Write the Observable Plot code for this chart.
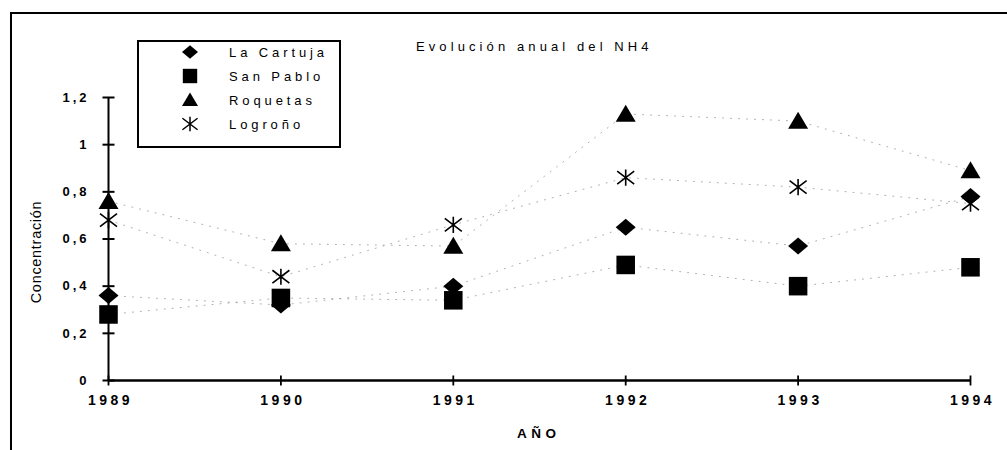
<!DOCTYPE html>
<html>
<head>
<meta charset="utf-8">
<script src="https://cdn.jsdelivr.net/npm/d3@7"></script>
<script src="https://cdn.jsdelivr.net/npm/@observablehq/plot@0.6"></script>
<style>
  body { margin: 0; background: #fff; font-family: "Liberation Sans", Arial, sans-serif; }
  #wrap { position: relative; width: 1007px; height: 450px; overflow: hidden; }
  #chart svg .tl text { letter-spacing: 3px; }
  #chart svg .tlx text { letter-spacing: 3.5px; }
  .frame { position: absolute; left: 10px; top: 12px; width: 1010px; height: 460px;
           border-top: 2px solid #000; border-left: 2px solid #000; }
  .title { position: absolute; left: 416px; top: 39px; font-size: 13px; letter-spacing: 4.1px; color: #000; }
  .legend { position: absolute; left: 137px; top: 40px; width: 200px; height: 104px;
            border: 2px solid #000; background: #fff; }
  .legend .row { position: absolute; left: 0; height: 20px; display: flex; align-items: center; }
  .legend .row span { position: absolute; left: 90px; font-size: 13px; letter-spacing: 3.9px; white-space: nowrap; }
  .legend .row svg { position: absolute; left: 40px; }
  .ylabel { position: absolute; left: 36px; top: 252px; transform: translate(-50%, -50%) rotate(-90deg);
            font-size: 14.5px; letter-spacing: 0.7px; white-space: nowrap; }
  .xlabel { position: absolute; left: 517px; top: 426px; font-size: 13.5px; font-weight: bold; letter-spacing: 4.5px; }
</style>
</head>
<body>
<div id="wrap">
  <div id="chart"></div>
  <div class="frame"></div>
  <div class="title">Evolución anual del NH4</div>
  <div class="legend" id="legend"></div>
  <div class="ylabel">Concentración</div>
  <div class="xlabel">AÑO</div>
</div>
<script>
// ---- data ----
const years = [1989, 1990, 1991, 1992, 1993, 1994];
const seriesNames = ["La Cartuja", "San Pablo", "Roquetas", "Logroño"];
const laCartuja = [0.36, 0.32, 0.40, 0.65, 0.57, 0.78];
const sanPablo  = [0.28, 0.35, 0.34, 0.49, 0.40, 0.48];
const roquetas  = [0.76, 0.58, 0.57, 1.13, 1.10, 0.89];
const logrono   = [0.68, 0.44, 0.66, 0.86, 0.82, 0.75];
const yTicks = [0, 0.2, 0.4, 0.6, 0.8, 1, 1.2];
const xTicks = years;

const seriesValues = [laCartuja, sanPablo, roquetas, logrono];
const data = seriesNames.flatMap((s, i) => years.map((y, j) => ({series: s, year: y, value: seriesValues[i][j]})));

// ---- custom symbols (r = sqrt(size/pi)) ----
const rad = size => Math.sqrt(size / Math.PI);
const symDiamond = {draw(c, size) { const r = rad(size), w = r, h = r * 0.85;
  c.moveTo(-w, 0); c.lineTo(0, -h); c.lineTo(w, 0); c.lineTo(0, h); c.closePath(); }};
const symSquare = {draw(c, size) { const r = rad(size) * 0.9; c.rect(-r, -r, 2 * r, 2 * r); }};
const symTriangle = {draw(c, size) { const r = rad(size), w = r, h = r * 1.7;
  c.moveTo(0, -h * 0.55); c.lineTo(w, h * 0.45); c.lineTo(-w, h * 0.45); c.closePath(); }};
const symAsterisk = {draw(c, size) { const r = rad(size) * 0.9;
  c.moveTo(0, -r); c.lineTo(0, r);
  const a = r * 1.05, b = r * 0.8;
  c.moveTo(-a, -b); c.lineTo(a, b);
  c.moveTo(-a, b); c.lineTo(a, -b); }};
const symHTick = {draw(c, size) { const r = rad(size); c.moveTo(-r, 0); c.lineTo(r, 0); }};
const symVTick = {draw(c, size) { const r = rad(size); c.moveTo(0, -r); c.lineTo(0, r); }};

const symbolOf = {"La Cartuja": symDiamond, "San Pablo": symSquare, "Roquetas": symTriangle, "Logroño": symAsterisk};
const fmt = d => String(d).replace(".", ",");

const dotMark = (name, opts) => Plot.dot(data.filter(d => d.series === name),
  {x: "year", y: "value", symbol: () => symbolOf[name], ...opts});

const chart = Plot.plot({
  width: 1007, height: 450,
  marginLeft: 108, marginRight: 37, marginTop: 97, marginBottom: 70,
  x: {domain: [1989, 1994], axis: null},
  y: {domain: [0, 1.2], axis: null},
  style: {fontFamily: "'Liberation Sans', Arial, sans-serif", fontSize: "12px", background: "transparent", overflow: "visible"},
  marks: [
    // faint dotted connecting lines
    Plot.line(data, {x: "year", y: "value", z: "series", stroke: "#999", strokeWidth: 1, strokeDasharray: "1,7", strokeOpacity: 0.8}),
    // axes lines
    Plot.ruleX([1989], {y1: 0, y2: 1.2, stroke: "#000", strokeWidth: 2}),
    Plot.ruleY([0], {x1: 1989, x2: 1994, stroke: "#000", strokeWidth: 2.6}),
    // tick marks
    Plot.dot(yTicks, {x: () => 1989, y: d => d, symbol: () => symHTick, r: 6, stroke: "#000", strokeWidth: 2}),
    Plot.dot(xTicks, {x: d => d, y: () => 0, symbol: () => symVTick, r: 5, stroke: "#000", strokeWidth: 1.8}),
    // tick labels
    Plot.text(yTicks, {x: () => 1989, y: d => d, text: fmt, textAnchor: "end", dx: -19, fontWeight: "bold", fontSize: 13, className: "tl", fill: "#000"}),
    Plot.text(xTicks, {x: d => d, y: () => 0, text: d => String(d), dy: 20, dx: 2, fontWeight: "bold", fontSize: 14, className: "tlx", fill: "#000"}),
    // markers
    dotMark("Logroño", {r: 9, stroke: "#000", strokeWidth: 1.6, fill: "none"}),
    dotMark("Roquetas", {r: 10, fill: "#000", stroke: "none"}),
    dotMark("San Pablo", {r: 10.3, fill: "#000", stroke: "none"}),
    dotMark("La Cartuja", {r: 10, fill: "#000", stroke: "none"})
  ]
});
document.getElementById("chart").appendChild(chart);

// ---- legend ----
const legend = document.getElementById("legend");
const legStyle = {"La Cartuja": {fill: "#000", stroke: "none", r: 8}, "San Pablo": {fill: "#000", stroke: "none", r: 8},
  "Roquetas": {fill: "#000", stroke: "none", r: 8}, "Logroño": {fill: "none", stroke: "#000", r: 8}};
seriesNames.forEach((s, i) => {
  const row = document.createElement("div");
  row.className = "row";
  row.style.top = (0 + i * 24) + "px";
  const st = legStyle[s];
  const p = d3.path();
  symbolOf[s].draw(p, Math.PI * st.r * st.r);
  row.innerHTML = `<svg width="22" height="20" viewBox="-11 -10 22 20"><path d="${p.toString()}" fill="${st.fill}" stroke="${st.stroke}" stroke-width="1.5"/></svg><span>${s}</span>`;
  legend.appendChild(row);
});
</script>
</body>
</html>
